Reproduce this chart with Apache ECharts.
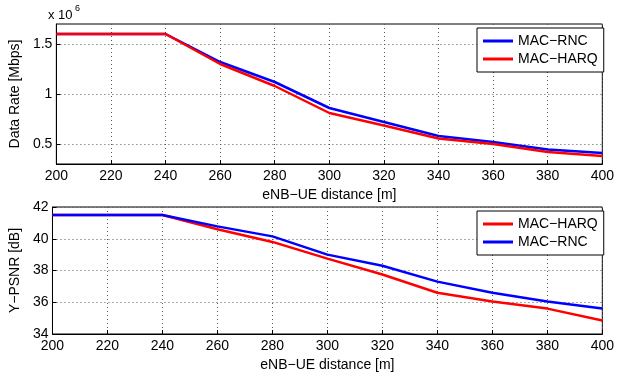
<!DOCTYPE html>
<html>
<head>
<meta charset="utf-8">
<script src="https://cdn.jsdelivr.net/npm/echarts@6/dist/echarts.min.js"></script>
<style>
  html, body { margin: 0; padding: 0; background: #fff; }
  #chart { width: 617px; height: 375px; }
</style>
</head>
<body>
<div id="chart"></div>
<script>
// 横轴: eNB-UE 距离
const distances = [200, 220, 240, 260, 280, 300, 320, 340, 360, 380, 400]
// 数据率 (x 10^6)
const rateRnc = [1.6, 1.6, 1.6, 1.32, 1.12, 0.86, 0.72, 0.58, 0.52, 0.445, 0.41]
const rateHarq = [1.6, 1.6, 1.6, 1.3, 1.08, 0.81, 0.685, 0.555, 0.5, 0.42, 0.38]
// Y-PSNR [dB]
const psnrHarq = [41.5, 41.5, 41.5, 40.6, 39.8, 38.75, 37.75, 36.6, 36.05, 35.6, 34.85]
const psnrRnc = [41.5, 41.5, 41.5, 40.78, 40.15, 39.0, 38.3, 37.3, 36.6, 36.05, 35.6]
const rateTicks = [0.5, 1, 1.5]

const font = 'Liberation Sans'
const dotted = { show: true, lineStyle: { type: [1, 3], color: '#555', width: 1 } }

const xAxisBase = {
  type: 'value',
  min: 200,
  max: 400,
  interval: 20,
  name: 'eNB\u2212UE distance [m]',
  nameLocation: 'middle',
  nameGap: 24,
  nameTextStyle: { fontFamily: font, fontSize: 14, color: '#000' },
  axisLine: { show: true, lineStyle: { color: '#000', width: 1 } },
  axisTick: { show: true, inside: true, length: 4, lineStyle: { color: '#000' } },
  axisLabel: { fontFamily: font, fontSize: 14, color: '#000', margin: 5 },
  splitLine: dotted
}

const legendBase = {
  orient: 'vertical',
  padding: [6, 6, 6, 6],
  itemGap: 4,
  itemWidth: 30, itemHeight: 3, icon: 'rect',
  borderColor: '#000', borderWidth: 1, backgroundColor: '#fff',
  textStyle: { fontFamily: font, fontSize: 14, color: '#000' }
}

const chart = echarts.init(document.getElementById('chart'))
chart.setOption({
  animation: false,
  backgroundColor: '#fff',
  grid: [
    { left: 48, top: 24, width: 557, height: 140, show: true, borderColor: '#000', borderWidth: 1, backgroundColor: 'transparent' },
    { left: 48, top: 207, width: 557, height: 127, show: true, borderColor: '#000', borderWidth: 1, backgroundColor: 'transparent' }
  ],
  legend: [
    Object.assign({ data: ['MAC\u2212RNC', 'MAC\u2212HARQ'], left: 477, top: 28 }, legendBase),
    Object.assign({ data: ['MAC\u2212HARQ', 'MAC\u2212RNC'], left: 477, top: 211 }, legendBase)
  ],
  graphic: [
    { type: 'text', left: 48, top: 9, style: { text: 'x 10', font: '13px "Liberation Sans"', fill: '#000' } },
    { type: 'text', left: 75, top: 4, style: { text: '6', font: '9px "Liberation Sans"', fill: '#000' } }
  ],
  xAxis: [
    Object.assign({ gridIndex: 0 }, xAxisBase),
    Object.assign({ gridIndex: 1 }, xAxisBase)
  ],
  yAxis: [
    {
      gridIndex: 0, type: 'value', min: 0.3, max: 1.7,
      name: 'Data Rate [Mbps]', nameLocation: 'middle', nameGap: 30,
      nameTextStyle: { fontFamily: font, fontSize: 14, color: '#000' },
      axisLine: { show: true, lineStyle: { color: '#000' } },
      axisTick: { show: true, inside: true, length: 4, customValues: rateTicks, lineStyle: { color: '#000' } },
      axisLabel: { fontFamily: font, fontSize: 14, color: '#000', margin: 4, customValues: rateTicks },
      splitLine: dotted
    },
    {
      gridIndex: 1, type: 'value', min: 34, max: 42, interval: 2,
      name: 'Y\u2212PSNR [dB]', nameLocation: 'middle', nameGap: 30,
      nameTextStyle: { fontFamily: font, fontSize: 14, color: '#000' },
      axisLine: { show: true, lineStyle: { color: '#000' } },
      axisTick: { show: true, inside: true, length: 4, lineStyle: { color: '#000' } },
      axisLabel: { fontFamily: font, fontSize: 14, color: '#000', margin: 4 },
      splitLine: dotted
    }
  ],
  series: [
    {
      name: 'MAC\u2212RNC', type: 'line', xAxisIndex: 0, yAxisIndex: 0,
      data: distances.map((d, i) => [d, rateRnc[i]]),
      showSymbol: false, lineStyle: { color: '#0000ff', width: 2.5 }, itemStyle: { color: '#0000ff' }
    },
    {
      name: 'MAC\u2212HARQ', type: 'line', xAxisIndex: 0, yAxisIndex: 0,
      data: distances.map((d, i) => [d, rateHarq[i]]),
      showSymbol: false, lineStyle: { color: '#ff0000', width: 2.5 }, itemStyle: { color: '#ff0000' }
    },
    {
      name: 'MAC\u2212HARQ', type: 'line', xAxisIndex: 1, yAxisIndex: 1,
      data: distances.map((d, i) => [d, psnrHarq[i]]),
      showSymbol: false, lineStyle: { color: '#ff0000', width: 2.5 }, itemStyle: { color: '#ff0000' }
    },
    {
      name: 'MAC\u2212RNC', type: 'line', xAxisIndex: 1, yAxisIndex: 1,
      data: distances.map((d, i) => [d, psnrRnc[i]]),
      showSymbol: false, lineStyle: { color: '#0000ff', width: 2.5 }, itemStyle: { color: '#0000ff' }
    }
  ]
})
</script>
</body>
</html>
